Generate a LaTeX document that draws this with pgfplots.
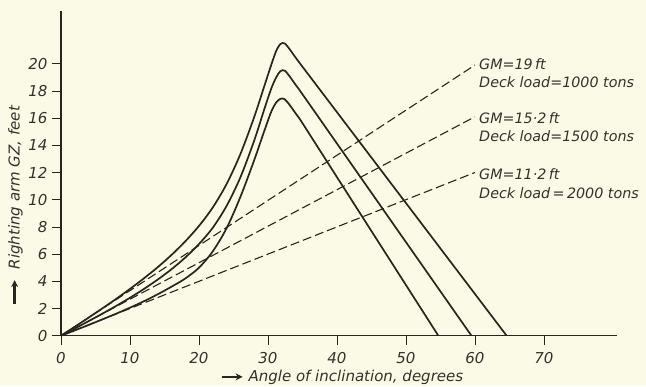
\documentclass[border=0pt]{standalone}
\usepackage{pgfplots}
\pgfplotsset{compat=1.18}
\usepackage{fontspec}
\setmainfont{DejaVu Sans}
\usetikzlibrary{arrows.meta}
\definecolor{bg}{RGB}{251,250,230}
\definecolor{ink}{RGB}{38,38,30}
\definecolor{txt}{RGB}{50,50,44}
\newcommand{\fs}{\fontsize{15}{17}\selectfont\itshape}
\newcommand{\fa}{\fontsize{14.3}{16}\selectfont\itshape}
\begin{document}
\begin{tikzpicture}
\fill[bg] (0pt,0pt) rectangle (646pt,386pt);
\useasboundingbox (0pt,0pt) rectangle (646pt,386pt);
\begin{axis}[
 at={(61pt,50.3pt)}, anchor=south west,
 width=556pt, height=325pt, scale only axis,
 xmin=0, xmax=80.6, ymin=0, ymax=23.9,
 axis x line*=bottom, axis y line*=left,
 axis line style={ink, line width=1.2pt},
 xtick={0,10,...,70}, ytick={0,2,...,20},
 tick align=outside, major tick length=9pt,
 tick style={ink, line width=0.7pt},
 ticklabel style={font=\fs, text=txt},
 xticklabel style={yshift=-4pt},
 yticklabel style={xshift=-1pt},
 /pgf/number format/assume math mode=true,
 clip=false,
 xlabel={\tikz[baseline=-0.6ex]\draw[ink,-{Stealth[length=7pt,width=7pt]},line width=2.4pt] (0,0)--(21pt,0);\ Angle of inclination, degrees},
 ylabel={\tikz[baseline=-0.6ex]\draw[ink,-{Stealth[length=7pt,width=7pt]},line width=2.4pt] (0,0)--(24pt,0);\ \ Righting arm GZ, feet},
 label style={font=\fs, text=txt},
 xlabel style={at={(axis description cs:0.505,-0.129)}, anchor=center},
 ylabel style={at={(axis description cs:-0.082,0.40)}, anchor=center},
]
% dashed tangent lines
\addplot[ink, line width=1.1pt, dash pattern=on 9pt off 4pt] coordinates {(0,0) (60,19.9)};
\addplot[ink, line width=1.1pt, dash pattern=on 9pt off 4pt] coordinates {(0,0) (60,16.1)};
\addplot[ink, line width=1.1pt, dash pattern=on 9pt off 4pt] coordinates {(0,0) (60,12.0)};
% GZ curves: rising part and rounded crest
\addplot[ink, line width=1.7pt, smooth, tension=0.5] coordinates {
(0,0) (2,0.66) (4,1.33) (6,2.01) (8,2.71) (10,3.44) (12,4.21) (14,5.03) (16,5.93) (18,6.93) (20,8.07) (22,9.43) (24,11.15) (26,13.35) (28,16.07) (29.5,18.4) (30.5,19.95) (31.2,20.95) (31.8,21.45) (32.4,21.5) (33.1,21.1) (33.8,20.6) (34.6,20.05)};
\addplot[ink, line width=1.7pt] coordinates {(34.6,20.05) (64.6,0)};
\addplot[ink, line width=1.7pt, smooth, tension=0.5] coordinates {
(0,0) (2,0.53) (4,1.07) (6,1.62) (8,2.19) (10,2.79) (12,3.43) (14,4.12) (16,4.88) (18,5.74) (20,6.74) (22,7.94) (24,9.54) (26,11.64) (28,14.34) (29.5,16.7) (30.5,18.2) (31.2,19.0) (31.8,19.45) (32.4,19.5) (33.1,19.1) (33.8,18.6) (34.6,18.05)};
\addplot[ink, line width=1.7pt] coordinates {(34.6,18.05) (59.5,0)};
\addplot[ink, line width=1.7pt, smooth, tension=0.5] coordinates {
(0,0) (2,0.39) (4,0.79) (6,1.2) (8,1.62) (10,2.06) (12,2.53) (14,3.04) (16,3.6) (18,4.2) (20,5.0) (22,6.2) (24,7.9) (26,10.2) (28,12.9) (29.5,15.1) (30.5,16.5) (31.2,17.15) (31.8,17.42) (32.4,17.4) (33.1,17.0) (33.8,16.5) (34.6,15.95)};
\addplot[ink, line width=1.7pt] coordinates {(34.6,15.95) (54.7,0)};
% annotations
\node[anchor=base west, inner sep=0pt, font=\fa, text=txt] at (axis cs:60.6,19.54) {GM=19\,ft};
\node[anchor=base west, inner sep=0pt, font=\fa, text=txt] at (axis cs:60.6,18.24) {Deck load=1000 tons};
\node[anchor=base west, inner sep=0pt, font=\fa, text=txt] at (axis cs:60.6,15.62) {GM=15·2\,ft};
\node[anchor=base west, inner sep=0pt, font=\fa, text=txt] at (axis cs:60.6,14.26) {Deck load=1500 tons};
\node[anchor=base west, inner sep=0pt, font=\fa, text=txt] at (axis cs:60.6,11.50) {GM=11·2\,ft};
\node[anchor=base west, inner sep=0pt, font=\fa, text=txt] at (axis cs:60.6,10.10) {Deck load\,=\,2000 tons};
\end{axis}
\end{tikzpicture}
\end{document}
